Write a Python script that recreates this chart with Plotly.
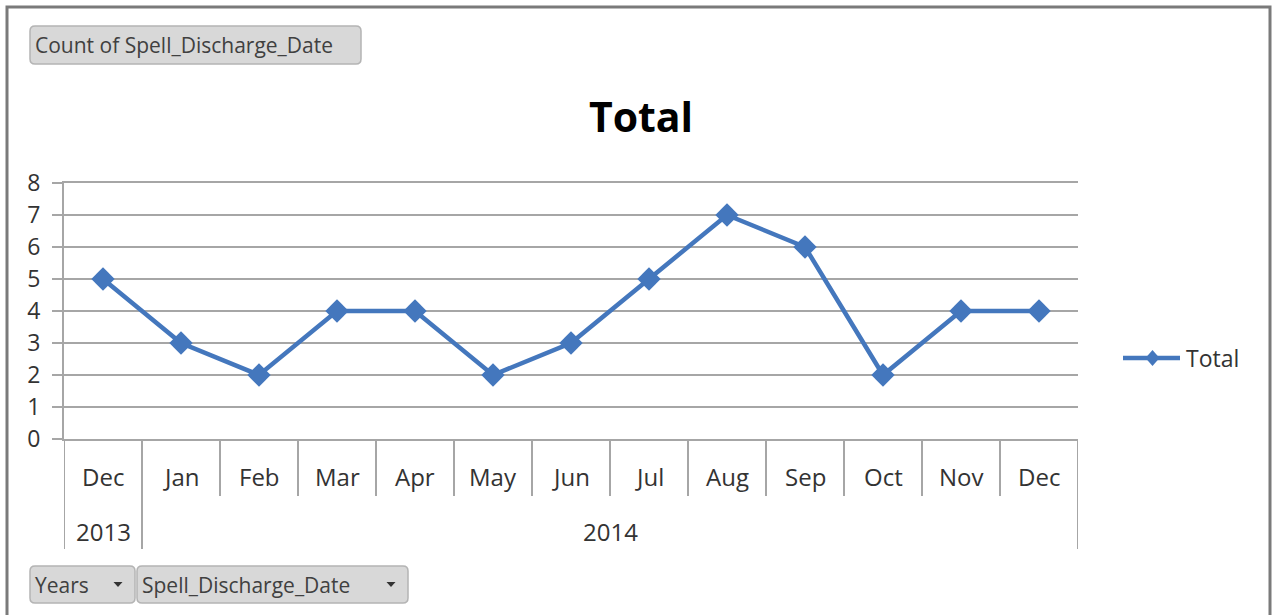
import plotly.graph_objects as go

# ---- data ----
months = ["Dec", "Jan", "Feb", "Mar", "Apr", "May", "Jun", "Jul", "Aug", "Sep", "Oct", "Nov", "Dec"]
years = ["2013"] + ["2014"] * 12
values = [5, 3, 2, 4, 4, 2, 3, 5, 7, 6, 2, 4, 4]
series_name = "Total"
y_ticks = [0, 1, 2, 3, 4, 5, 6, 7, 8]

W, H = 1277, 615
L, R, T, B = 64, 1078, 183, 439  # plot area in pixels

def px(x):
    return (x - L) / (R - L)

def py(y):
    return (B - y) / (B - T)

BLUE = "#4477bd"
GRID = "#a6a6a6"
TXT = "#333333"
FONT = "Open Sans"

xs = list(range(len(months)))

fig = go.Figure()
fig.add_trace(go.Scatter(
    x=xs, y=values, mode="lines+markers", name=series_name,
    line=dict(color=BLUE, width=4.5),
    marker=dict(symbol="diamond", size=18, color=BLUE, line=dict(width=0)),
    showlegend=False, cliponaxis=False,
))

shapes = []
annotations = []

# category dividers
for k in range(len(months) + 1):
    xb = k - 0.5
    year_boundary = (k == 0 or k == len(months) or years[k] != years[k - 1])
    y_end = 549 if year_boundary else 496
    shapes.append(dict(type="line", xref="x", yref="paper", x0=xb, x1=xb,
                       y0=py(B), y1=py(y_end), line=dict(color=GRID, width=2)))

# month labels
for i, m in enumerate(months):
    annotations.append(dict(x=i, xref="x", y=py(476), yref="paper", text=m,
                            showarrow=False, font=dict(family=FONT, size=24, color=TXT),
                            xanchor="center", yanchor="middle"))

# year labels
groups = []
for i, yv in enumerate(years):
    if groups and groups[-1][0] == yv:
        groups[-1][1].append(i)
    else:
        groups.append([yv, [i]])
for yv, idx in groups:
    annotations.append(dict(x=sum(idx) / len(idx), xref="x", y=py(531), yref="paper", text=yv,
                            showarrow=False, font=dict(family=FONT, size=24, color=TXT),
                            xanchor="center", yanchor="middle"))

# legend (manual)
shapes.append(dict(type="line", xref="paper", yref="paper", x0=px(1123), x1=px(1180),
                   y0=py(358), y1=py(358), line=dict(color=BLUE, width=4.5)))
cx, cy = 1152.5, 358
shapes.append(dict(type="path", xref="paper", yref="paper",
                   path=f"M{px(cx-7)},{py(cy)} L{px(cx)},{py(cy-8)} L{px(cx+7)},{py(cy)} L{px(cx)},{py(cy+8)} Z",
                   fillcolor=BLUE, line=dict(width=0)))
annotations.append(dict(x=px(1184), xref="paper", y=py(358), yref="paper", text=series_name,
                        showarrow=False, font=dict(family=FONT, size=23, color=TXT),
                        xanchor="left", yanchor="middle"))

# frame
shapes.append(dict(type="path", xref="paper", yref="paper",
                   path=f"M{px(7)},{py(620)} L{px(7)},{py(7)} L{px(1270)},{py(7)} L{px(1270)},{py(620)}",
                   line=dict(color="#7a7a7a", width=3)))

def rrect(x0, y0, x1, y1, r=5):
    p = (f"M{px(x0+r)},{py(y0)} L{px(x1-r)},{py(y0)} Q{px(x1)},{py(y0)} {px(x1)},{py(y0+r)} "
         f"L{px(x1)},{py(y1-r)} Q{px(x1)},{py(y1)} {px(x1-r)},{py(y1)} "
         f"L{px(x0+r)},{py(y1)} Q{px(x0)},{py(y1)} {px(x0)},{py(y1-r)} "
         f"L{px(x0)},{py(y0+r)} Q{px(x0)},{py(y0)} {px(x0+r)},{py(y0)} Z")
    return dict(type="path", xref="paper", yref="paper", path=p,
                fillcolor="#d8d8d8", line=dict(color="#b4b4b4", width=1.5), layer="above")

def arrow(cx, cy):
    return dict(type="path", xref="paper", yref="paper",
                path=f"M{px(cx-4.5)},{py(cy-2.5)} L{px(cx+4.5)},{py(cy-2.5)} L{px(cx)},{py(cy+2.5)} Z",
                fillcolor="#333333", line=dict(width=0), layer="above")

buttons = [
    ("Count of Spell_Discharge_Date", 30, 26, 361, 64, False),
    ("Years", 30, 566, 135, 603, True),
    ("Spell_Discharge_Date", 137, 566, 408, 603, True),
]
for label, x0, y0, x1, y1, has_arrow in buttons:
    shapes.append(rrect(x0, y0, x1, y1))
    annotations.append(dict(x=px(x0 + 3), xref="paper", y=py((y0 + y1) / 2), yref="paper", text=label,
                            showarrow=False, font=dict(family=FONT, size=21, color="#404040"),
                            xanchor="left", yanchor="middle"))
    if has_arrow:
        shapes.append(arrow(x1 - 17, (y0 + y1) / 2))

fig.update_layout(
    width=W, height=H, autosize=False,
    margin=dict(l=L, r=W - R, t=T, b=H - B, pad=0),
    paper_bgcolor="white", plot_bgcolor="white",
    title=dict(text="<b>Total</b>", x=641 / W, xanchor="center", y=1 - 118 / H, yanchor="middle",
               font=dict(family=FONT, size=41, color="#000000")),
    xaxis=dict(range=[-0.5, len(months) - 0.5], showticklabels=False, showgrid=False, zeroline=False,
               showline=True, mirror=True, linecolor=GRID, linewidth=2, ticks="", fixedrange=True),
    yaxis=dict(range=[0, 8], tickvals=y_ticks, showgrid=True, gridcolor=GRID, gridwidth=2,
               zeroline=False, showline=True, linecolor=GRID, linewidth=2,
               ticks="outside", ticklen=10, tickwidth=2, tickcolor=GRID, ticklabelstandoff=7,
               tickfont=dict(family=FONT, size=23, color=TXT), fixedrange=True),
    shapes=shapes, annotations=annotations,
    showlegend=False,
)

fig.write_html("out.html", config={"displayModeBar": False},
               post_script="document.body.style.margin='0';")
